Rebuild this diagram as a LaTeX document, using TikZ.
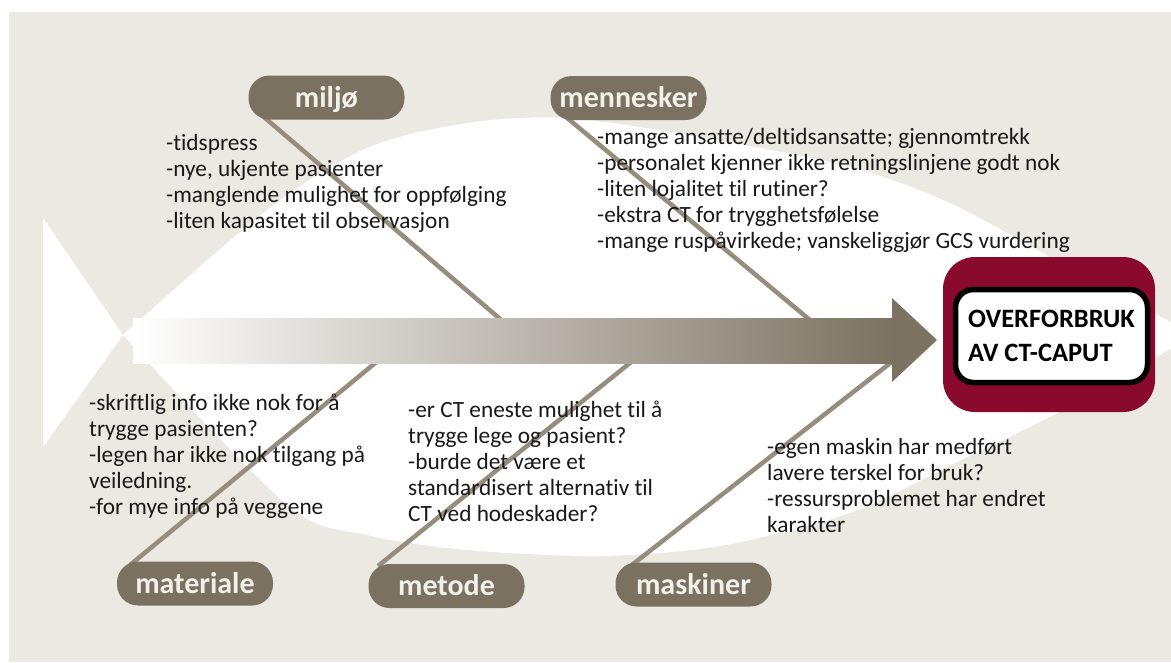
\documentclass[tikz,border=0pt]{standalone}
\usepackage{fontspec}
\setmainfont{Carlito}[Ligatures=NoCommon]
\definecolor{panelbg}{RGB}{236,233,226}
\definecolor{pillbrown}{RGB}{123,113,96}
\definecolor{spinedark}{RGB}{124,114,98}
\definecolor{bonegray}{RGB}{150,141,127}
\definecolor{boxred}{RGB}{138,10,46}
\definecolor{pilltext}{RGB}{242,240,234}
\definecolor{bodytext}{RGB}{25,25,25}

\begin{document}
\begin{tikzpicture}[x=1pt,y=-1pt,
    pill box/.style={fill=pillbrown,text=pilltext,rounded corners=21pt,
      minimum width=156pt,minimum height=44pt,inner sep=0pt,
      text height=21pt,text depth=2pt,font=\fontsize{30}{30}\selectfont\bfseries},
    bone line/.style={color=bonegray,line width=4.5pt},
    cause text/.style={anchor=north west,inner sep=0pt,align=left,
      text=bodytext,font=\fontsize{23.3}{26}\selectfont}]
\useasboundingbox (0,0) rectangle (1171,662);
\fill[white] (0,0) rectangle (1171,662);
\fill[panelbg] (9,12) rectangle (1171,662);

% fish body and tail
\begin{scope}
\clip (9,12) rectangle (1171,662);
\fill[white] (43,218) -- (123,335) -- (43,447) -- cycle;
\fill[white] plot[smooth] coordinates {(123,335) (267,210) (367,148) (467,123) (567,118) (700,137) (850,167) (950,203) (1050,257) (1195,335)}
  -- plot[smooth] coordinates {(1195,335) (1057,413) (957,462) (850,513) (720,546) (600,556) (467,550) (367,535) (287,505) (123,335)} -- cycle;
\end{scope}

% bones
\coordinate (miljo top) at (258,112);
\coordinate (miljo foot) at (513,330);
\coordinate (mennesker top) at (560,112);
\coordinate (mennesker foot) at (822,330);
\coordinate (materiale top) at (130,565);
\coordinate (materiale foot) at (391,350);
\coordinate (metode top) at (378,566);
\coordinate (metode foot) at (646,350);
\coordinate (maskiner top) at (628,568);
\coordinate (maskiner foot) at (907,350);
\foreach \b in {miljo,mennesker,materiale,metode,maskiner}
  \draw[bone line] (\b\space top) -- (\b\space foot);

% spine
\shade[left color=white,right color=spinedark] (133,318) rectangle (892,363);
\fill[spinedark] (892,298) -- (937,340) -- (892,382) -- cycle;

% labels
\node (miljo) [pill box] at (326.5,97.5) {miljø};
\node (mennesker) [pill box] at (628.5,98) {mennesker};
\node (materiale) [pill box] at (195,583.5) {materiale};
\node (metode) [pill box] at (446.5,586) {metode};
\node (maskiner) [pill box] at (693.5,584.5) {maskiner};

\node (miljo list) [cause text] at (166,134) {-tidspress\\-nye, ukjente pasienter\\-manglende mulighet for oppfølging\\-liten kapasitet til observasjon};
\node (mennesker list) [cause text] at (597,128) {-mange ansatte/deltidsansatte; gjennomtrekk\\-personalet kjenner ikke retningslinjene godt nok\\-liten lojalitet til rutiner?\\-ekstra CT for trygghetsfølelse\\-mange ruspåvirkede; vanskeliggjør GCS vurdering};
\node (materiale list) [cause text] at (89,394) {-skriftlig info ikke nok for å\\trygge pasienten?\\-legen har ikke nok tilgang på\\veiledning.\\-for mye info på veggene};
\node (metode list) [cause text] at (408,401) {-er CT eneste mulighet til å\\trygge lege og pasient?\\-burde det være et\\standardisert alternativ til\\CT ved hodeskader?};
\node (maskiner list) [cause text] at (767,438) {-egen maskin har medført\\lavere terskel for bruk?\\-ressursproblemet har endret\\karakter};

% effect
\node (effect frame) [fill=boxred,rounded corners=32pt,minimum width=212pt,minimum height=155pt] at (1049,334.5) {};
\node (effect) [draw=black,line width=5.5pt,fill=white,rounded corners=18pt,minimum width=192pt,minimum height=93pt,align=left,font=\fontsize{26.5}{34}\selectfont\bfseries] at (1051.5,336) {OVERFORBRUK\\AV CT-CAPUT};
\end{tikzpicture}
\end{document}
